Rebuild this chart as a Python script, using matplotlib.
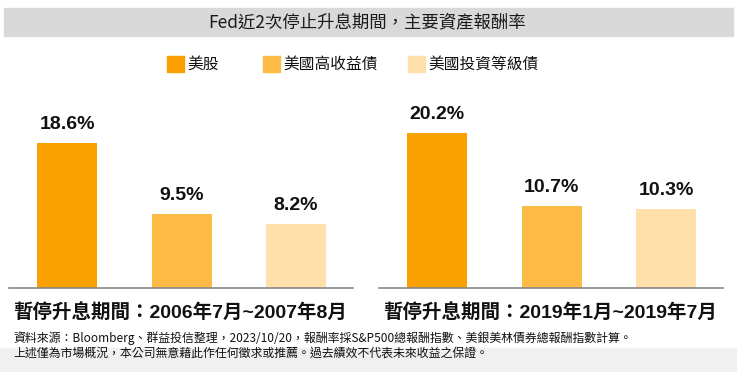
import matplotlib as mpl
import matplotlib.pyplot as plt
from matplotlib.patches import Rectangle

series = ['美股', '美國高收益債', '美國投資等級債']
colors = ['#FAA000', '#FDBB45', '#FFE0AA']
periods = ['暫停升息期間：2006年7月~2007年8月', '暫停升息期間：2019年1月~2019年7月']
returns_2006 = [18.6, 9.5, 8.2]
returns_2019 = [20.2, 10.7, 10.3]
title = 'Fed近2次停止升息期間，主要資產報酬率'
notes = ['資料來源：Bloomberg、群益投信整理，2023/10/20，報酬率採S&P500總報酬指數、美銀美林債券總報酬指數計算。',
         '上述僅為市場概況，本公司無意藉此作任何徵求或推薦。過去績效不代表未來收益之保證。']

mpl.rcParams['font.family'] = ['Liberation Sans', 'Noto Sans CJK TC', 'DejaVu Sans']
cjk = ['Noto Sans CJK TC', 'DejaVu Sans']

W, H = 737, 372
fig = plt.figure(figsize=(W / 100, H / 100), dpi=100)


def fx(x):
    return x / W


def fy(y):
    return 1 - y / H


# background bands
fig.patches.append(Rectangle((fx(4), fy(36)), fx(729), 28 / H, color='#D9D9D9',
                             transform=fig.transFigure, zorder=0))
fig.patches.append(Rectangle((0, 0), 1, 24 / H, color='#F0F0F0',
                             transform=fig.transFigure, zorder=0))
fig.text(fx(367), fy(22), title, family=cjk, fontsize=12.5, fontweight='medium',
         ha='center', va='center', color='#1a1a1a')

# legend
for name, c, x0 in zip(series, colors, [167, 263, 408]):
    fig.patches.append(Rectangle((fx(x0), fy(72)), 17 / W, 16 / H, color=c,
                                 transform=fig.transFigure))
    fig.text(fx(x0 + 20), fy(64), name, family=cjk, fontsize=11.3, ha='left',
             va='center', color='#111111')

panels = [(9, returns_2006, 24.1, periods[0]), (379, returns_2019, 24.5, periods[1])]
for left, vals, top, label in panels:
    ax = fig.add_axes([fx(left), fy(288), 344 / W, 188 / H])
    xs = range(len(vals))
    ax.bar(xs, vals, width=0.524, color=colors)
    for x, v in zip(xs, vals):
        ax.annotate(f'{v}%', (x, v), xytext=(0, 7), textcoords='offset points',
                    ha='center', va='bottom', fontsize=14, fontweight='bold',
                    color='#111111')
    ax.set_xlim(-0.507, 2.498)
    ax.set_ylim(0, top)
    for s in ['top', 'left', 'right']:
        ax.spines[s].set_visible(False)
    ax.spines['bottom'].set_color('#888888')
    ax.spines['bottom'].set_linewidth(1.2)
    ax.set_xticks([])
    ax.set_yticks([])
    ax.patch.set_alpha(0)
    fig.text(fx(left + 4), fy(312), label, fontsize=14, fontweight='bold',
             ha='left', va='center', color='#111111')

fig.text(fx(13), fy(338), notes[0], family=cjk, fontsize=8.6, ha='left', va='center',
         color='#111111')
fig.text(fx(13), fy(353), notes[1], family=cjk, fontsize=8.6, ha='left', va='center',
         color='#111111')

fig.savefig('out.png', dpi=100)
